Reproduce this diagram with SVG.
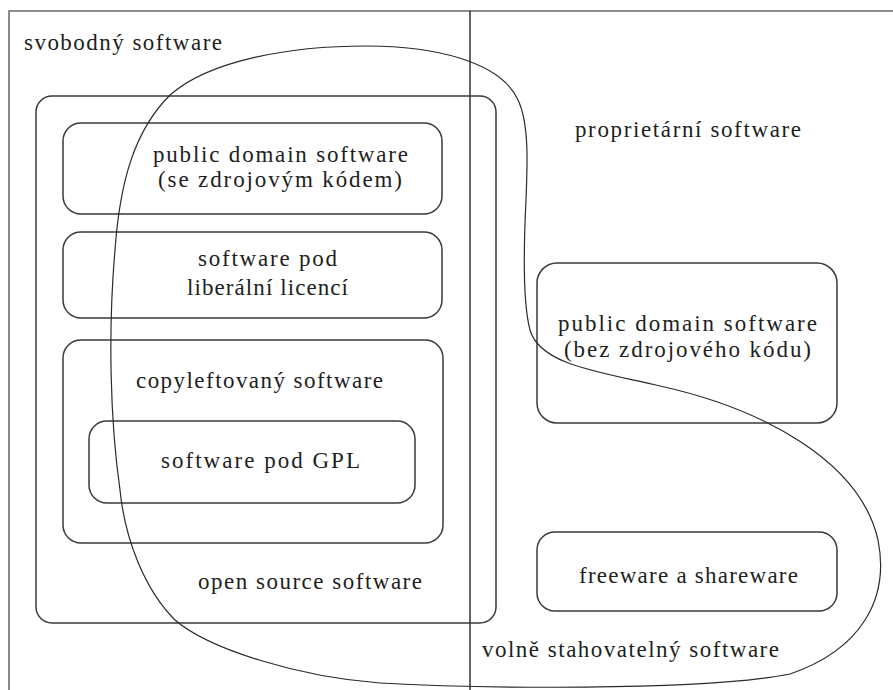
<svg xmlns="http://www.w3.org/2000/svg" width="893" height="690" viewBox="0 0 893 690">
<style>
.box{fill:none;stroke:#3a3a3a;stroke-width:1.5}
.t{font-family:"Liberation Serif","DejaVu Serif",serif;font-size:23px;fill:#1e1e1e}
.frame{fill:none;stroke:#8c8c8c;stroke-width:2}
.div{stroke:#111;stroke-width:1.3}
.blob{fill:none;stroke:#2a2a2a;stroke-width:1.2}
</style>
<rect width="893" height="690" fill="#ffffff"/>
<g id="frame">
<path class="frame" d="M9,690 V11 H893"/>
<line class="div" x1="470" y1="11" x2="470" y2="690"/>
</g>
<g id="svobodny">
<text class="t" x="24" y="50" textLength="198" lengthAdjust="spacing">svobodný software</text>
</g>
<g id="proprietarni">
<text class="t" x="575" y="137" textLength="226" lengthAdjust="spacing">proprietární software</text>
</g>
<g id="open-source">
<rect class="box" x="36" y="96" width="460" height="527" rx="16"/>
<text class="t" x="198" y="589" textLength="224" lengthAdjust="spacing">open source software</text>
</g>
<g id="pd-se">
<rect class="box" x="63" y="123" width="379" height="91" rx="18"/>
<text class="t" x="153" y="162" textLength="255" lengthAdjust="spacing">public domain software</text>
<text class="t" x="158" y="187" textLength="244" lengthAdjust="spacing">(se zdrojovým kódem)</text>
</g>
<g id="liberal">
<rect class="box" x="63" y="232" width="379" height="86" rx="18"/>
<text class="t" x="198" y="266" textLength="139" lengthAdjust="spacing">software pod</text>
<text class="t" x="187" y="295" textLength="161" lengthAdjust="spacing">liberální licencí</text>
</g>
<g id="copyleft">
<rect class="box" x="63" y="340" width="380" height="203" rx="18"/>
<text class="t" x="136" y="388" textLength="247" lengthAdjust="spacing">copyleftovaný software</text>
</g>
<g id="gpl">
<rect class="box" x="89" y="421" width="326" height="82" rx="18"/>
<text class="t" x="161" y="468" textLength="199" lengthAdjust="spacing">software pod GPL</text>
</g>
<g id="pd-bez">
<rect class="box" x="537" y="263" width="300" height="160" rx="20"/>
<text class="t" x="558" y="331" textLength="259" lengthAdjust="spacing">public domain software</text>
<text class="t" x="564" y="357" textLength="247" lengthAdjust="spacing">(bez zdrojového kódu)</text>
</g>
<g id="freeware">
<rect class="box" x="537" y="532" width="300" height="79" rx="18"/>
<text class="t" x="579" y="583" textLength="219" lengthAdjust="spacing">freeware a shareware</text>
</g>
<g id="connectors">
<path class="blob" d="M367,46 C430,46 500,60 518,100 C530,125 527,170 526,200 C524,240 522,300 530,330 C540,365 600,372 660,386 C760,408 860,460 878,540 C890,600 860,650 790,674 C700,692 470,688 380,683 C300,677 210,650 175,620 C145,590 125,540 120,490 C110,420 108,330 115,250 C120,180 135,130 170,95 C210,60 290,46 367,46 Z"/>
</g>
<g id="volne">
<text class="t" x="482" y="657" textLength="297" lengthAdjust="spacing">volně stahovatelný software</text>
</g>
</svg>
